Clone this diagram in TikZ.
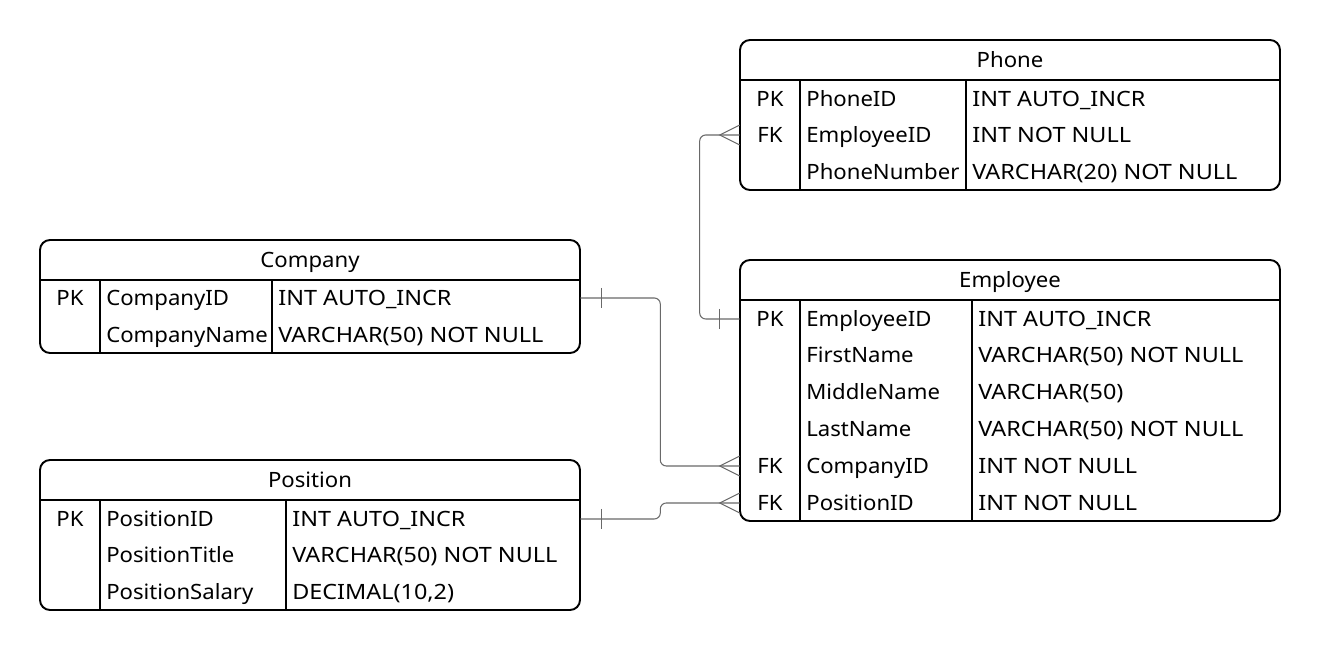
\documentclass[tikz,border=0pt]{standalone}
\usepackage{fontspec}
\setmainfont{Noto Sans}[FakeStretch=1.05]
\newfontfamily\typefamily{Noto Sans}[FakeStretch=1.11]
\usetikzlibrary{positioning, calc}
\definecolor{linkcolor}{RGB}{105, 105, 105}
\newcommand{\erfont}{\fontsize{12}{14}\selectfont}

\begin{document}
\begin{tikzpicture}[
    x=0.02cm, y=-0.02cm,
    tablebox/.style={draw, line width=1.1pt, rounded corners=0.2cm},
    divider/.style={draw, line width=0.9pt},
    title/.style={font=\erfont, inner sep=0pt, text height=11pt, text depth=2pt},
    key/.style={font=\erfont, inner sep=0pt, text height=11pt, text depth=2pt},
    field/.style={font=\erfont, anchor=west, inner sep=0pt, text height=11pt, text depth=2pt},
    dtype/.style={field, font=\erfont\typefamily},
    rowbox/.style={minimum width=10.8cm, minimum height=0.5cm, inner sep=0pt},
    link/.style={draw=linkcolor, line width=0.6pt, rounded corners=0.12cm},
    crow/.style={draw=linkcolor, line width=0.6pt, sharp corners},
]

\fill[white] (0,0) rectangle (1320,651);
\useasboundingbox (0,0) rectangle (1320,651);

% ============ Phone ============
\draw[tablebox] (740,40) rectangle (1280,190);
\draw[divider] (740,80) -- (1280,80) (800,80) -- (800,190) (966,80) -- (966,190);
\node[title] (phone) at (1010,60) {Phone};
\foreach \y/\k/\f/\t in {99/PK/PhoneID/INT AUTO\_INCR,
                         135/FK/EmployeeID/INT NOT NULL,
                         172//PhoneNumber/VARCHAR(20) NOT NULL} {
    \node[rowbox] (phone-\f) at (1010,\y) {};
    \node[key] (phone-\f-key) at (770,\y) {\k};
    \node[field] (phone-\f-name) at (806,\y) {\f};
    \node[dtype] (phone-\f-type) at (972,\y) {\t};
}

% ============ Company ============
\draw[tablebox] (40,240) rectangle (580,353);
\draw[divider] (40,280) -- (580,280) (100,280) -- (100,353) (272,280) -- (272,353);
\node[title] (company) at (310,260) {Company};
\foreach \y/\k/\f/\t in {298/PK/CompanyID/INT AUTO\_INCR,
                         335//CompanyName/VARCHAR(50) NOT NULL} {
    \node[rowbox] (company-\f) at (310,\y) {};
    \node[key] (company-\f-key) at (70,\y) {\k};
    \node[field] (company-\f-name) at (106,\y) {\f};
    \node[dtype] (company-\f-type) at (278,\y) {\t};
}

% ============ Employee ============
\draw[tablebox] (740,260) rectangle (1280,521);
\draw[divider] (740,300) -- (1280,300) (800,300) -- (800,521) (972,300) -- (972,521);
\node[title] (employee) at (1010,280) {Employee};
\foreach \y/\k/\f/\t in {319/PK/EmployeeID/INT AUTO\_INCR,
                         355//FirstName/VARCHAR(50) NOT NULL,
                         392//MiddleName/VARCHAR(50),
                         429//LastName/VARCHAR(50) NOT NULL,
                         466/FK/CompanyID/INT NOT NULL,
                         503/FK/PositionID/INT NOT NULL} {
    \node[rowbox] (employee-\f) at (1010,\y) {};
    \node[key] (employee-\f-key) at (770,\y) {\k};
    \node[field] (employee-\f-name) at (806,\y) {\f};
    \node[dtype] (employee-\f-type) at (978,\y) {\t};
}

% ============ Position ============
\draw[tablebox] (40,460) rectangle (580,610);
\draw[divider] (40,500) -- (580,500) (100,500) -- (100,610) (286,500) -- (286,610);
\node[title] (position) at (310,480) {Position};
\foreach \y/\k/\f/\t in {519/PK/PositionID/INT AUTO\_INCR,
                         555//PositionTitle/VARCHAR(50) NOT NULL,
                         592//PositionSalary/{DECIMAL(10,2)}} {
    \node[rowbox] (position-\f) at (310,\y) {};
    \node[key] (position-\f-key) at (70,\y) {\k};
    \node[field] (position-\f-name) at (106,\y) {\f};
    \node[dtype] (position-\f-type) at (292,\y) {\t};
}

% ============ Relations ============
\draw[link] (company-CompanyID.east) -- ++(80,0) |- (employee-CompanyID.west);
\draw[link] (position-PositionID.east) -- ++(80,0) |- (employee-PositionID.west);
\draw[link] (employee-EmployeeID.west) -- ++(-40,0) |- (phone-EmployeeID.west);

% one side
\foreach \n in {company-CompanyID, position-PositionID}
    \draw[crow] ([xshift=0.42cm, yshift=0.2cm]\n.east) -- ([xshift=0.42cm, yshift=-0.2cm]\n.east);
\draw[crow] ([xshift=-0.4cm, yshift=0.2cm]employee-EmployeeID.west) -- ([xshift=-0.4cm, yshift=-0.2cm]employee-EmployeeID.west);

% many side
\foreach \n in {employee-CompanyID, employee-PositionID, phone-EmployeeID}
    \draw[crow] ([yshift=0.2cm]\n.west) -- ([xshift=-0.4cm]\n.west) -- ([yshift=-0.2cm]\n.west);

\end{tikzpicture}
\end{document}
